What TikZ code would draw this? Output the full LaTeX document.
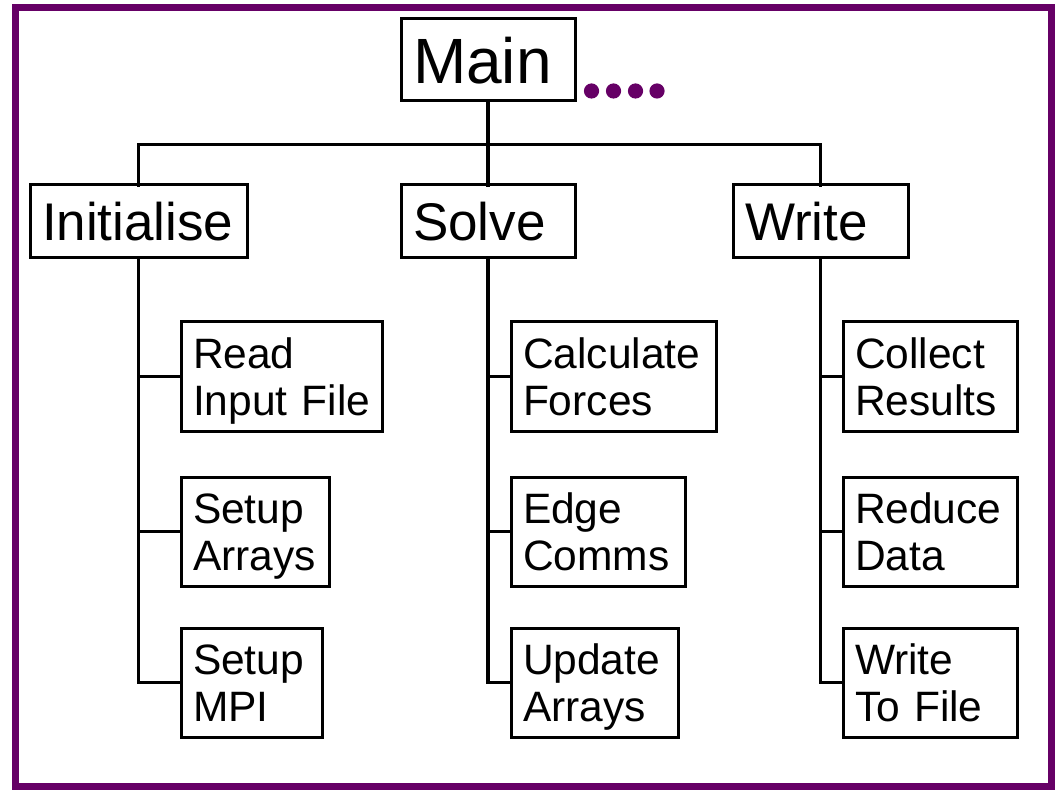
\documentclass[tikz,border=0pt]{standalone}
\usepackage{fontspec}
\setmainfont{Liberation Sans}
\definecolor{frame}{RGB}{102,0,102}
\begin{document}
\begin{tikzpicture}[x=1pt,y=-1pt,
  box/.style={draw=black, line width=3pt, rectangle, outer sep=0pt, inner xsep=12pt, inner ysep=0pt, anchor=north west, align=left},
  subbox/.style={box, font=\fontsize{42.5}{47}\selectfont, text height=31pt, text depth=47pt},
  topbox/.style={box, font=\fontsize{53}{60}\selectfont, text height=38pt, text depth=0pt, minimum height=73pt},
  link/.style={line width=3.4pt, line cap=rect}]
\useasboundingbox (0,0) rectangle (1058,794);
\draw[frame, line width=7pt] (15.5,7.5) rectangle (1051,786);

% main
\node[box, font=\fontsize{64}{70}\selectfont, text height=47pt, text depth=0pt, text width=150pt, minimum height=82pt] (main) at (401,19) {Main};
\fill[frame] (591.5,91) circle (7.6) (613.5,91) circle (7.6) (635.5,91) circle (7.6) (657,91) circle (7.6);

% level 1
\node[topbox, text width=193pt] (init) at (30,185) {Initialise};
\node[topbox, text width=150pt] (solve) at (401,185) {Solve};
\node[topbox, text width=151pt] (write) at (733,185) {Write};

% level 2
\node[subbox, text width=177pt, minimum height=109pt] (read) at (181,322) {Read\\\mbox{Input File}};
\node[subbox, text width=124pt, minimum height=109pt] (arr) at (181,477) {Setup\\Arrays};
\node[subbox, text width=117pt, minimum height=109pt] (mpi) at (181,628) {Setup\\MPI};

\node[subbox, text width=181pt, minimum height=109pt] (calc) at (511,322) {Calculate\\Forces};
\node[subbox, text width=150pt, minimum height=109pt] (edge) at (511,477) {Edge\\Comms};
\node[subbox, text width=143pt, minimum height=109pt] (upd) at (511,628) {Update\\Arrays};

\node[subbox, text width=150pt, minimum height=109pt] (coll) at (843,322) {Collect\\Results};
\node[subbox, text width=150pt, minimum height=109pt] (red) at (843,477) {Reduce\\Data};
\node[subbox, text width=150pt, minimum height=109pt] (wtf) at (843,628) {Write\\\mbox{To File}};

% connectors
\coordinate (bar) at (488,144.5);
\draw[link] (main.south) -- (solve.north);
\draw[link] (init.north) |- (bar) -| (write.north);

\draw[link] (init.south) |- (mpi.west);
\draw[link] (init.south |- read.west) -- (read.west);
\draw[link] (init.south |- arr.west) -- (arr.west);

\draw[link] (solve.south) |- (upd.west);
\draw[link] (solve.south |- calc.west) -- (calc.west);
\draw[link] (solve.south |- edge.west) -- (edge.west);

\draw[link] (write.south) |- (wtf.west);
\draw[link] (write.south |- coll.west) -- (coll.west);
\draw[link] (write.south |- red.west) -- (red.west);
\end{tikzpicture}
\end{document}
